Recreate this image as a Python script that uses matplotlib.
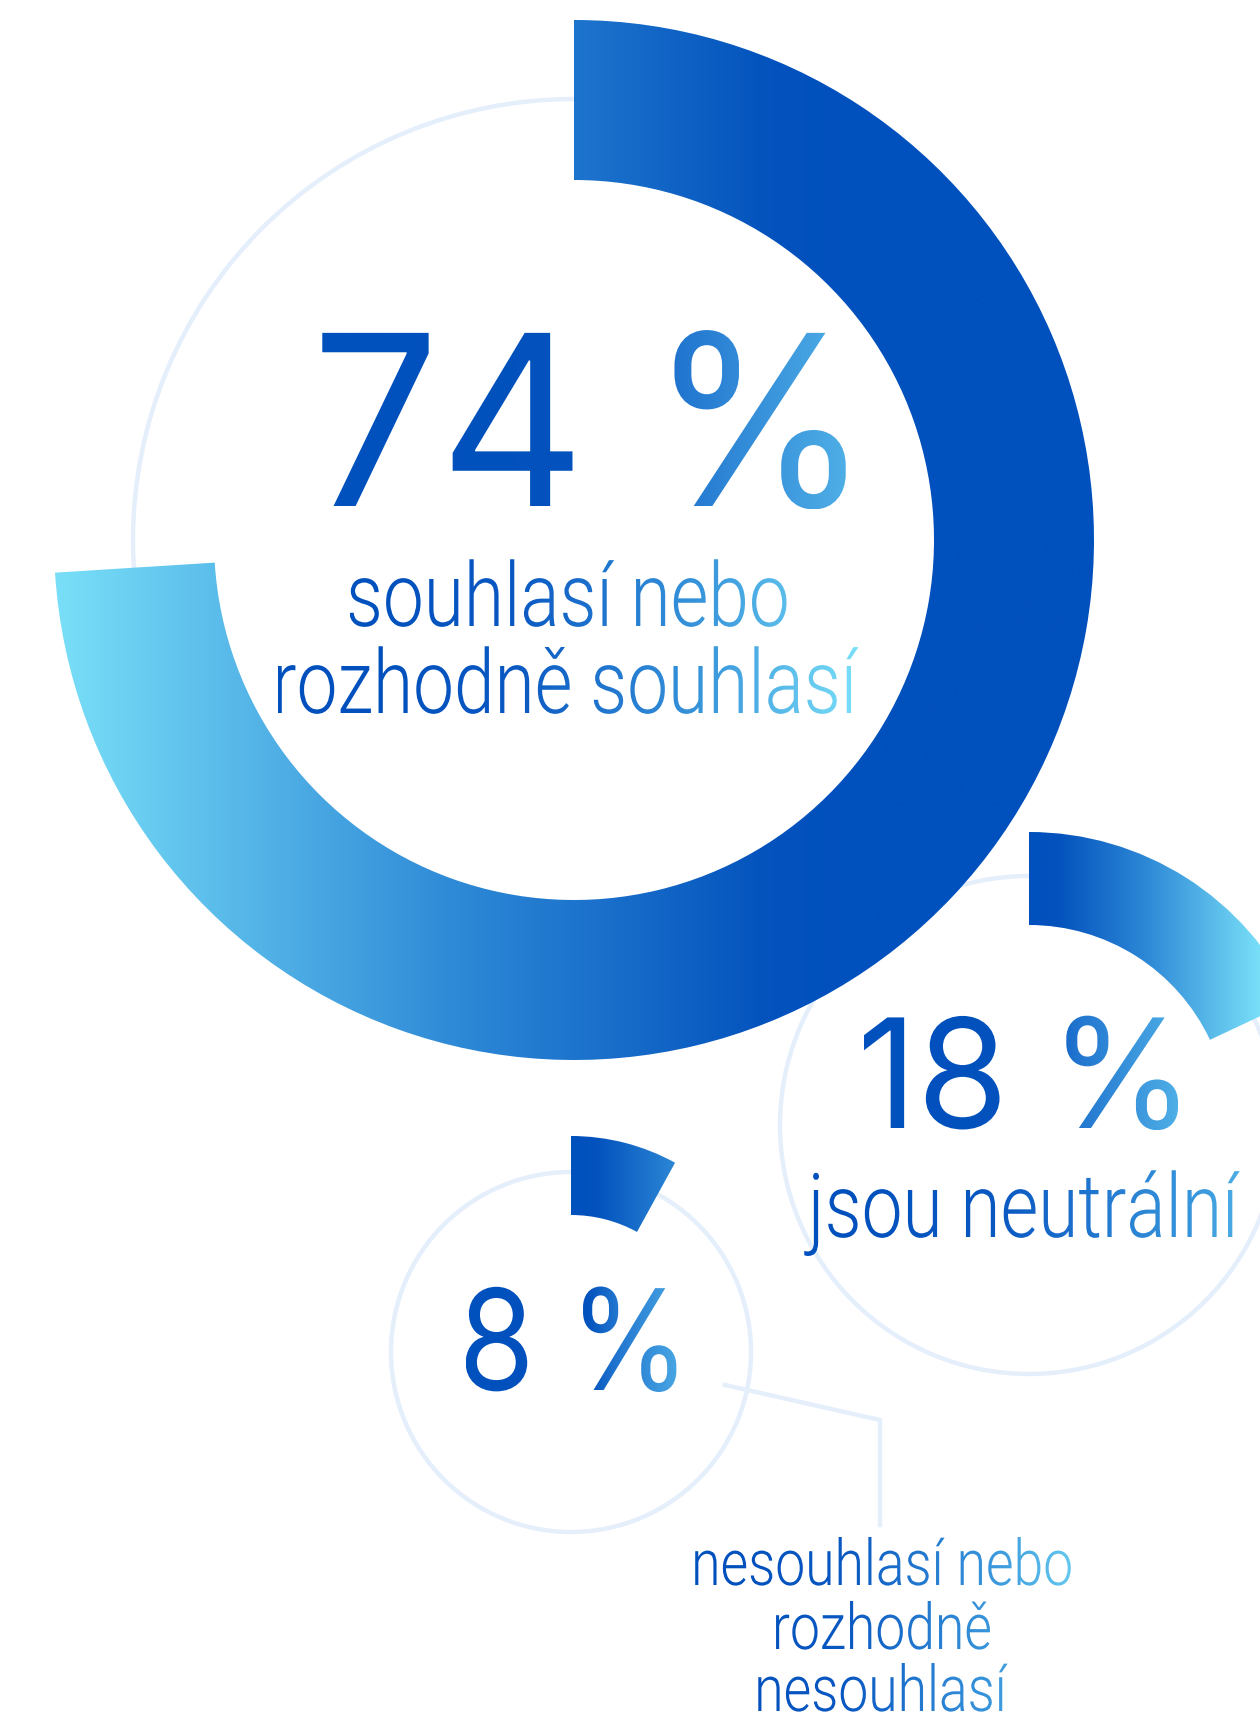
import numpy as np
import matplotlib
matplotlib.use("Agg")
import matplotlib.pyplot as plt
from matplotlib.patches import Wedge, Circle, PathPatch
from matplotlib.textpath import TextPath
from matplotlib.font_manager import FontProperties
from matplotlib.colors import LinearSegmentedColormap
from matplotlib.transforms import Affine2D

# data
shares = [74, 18, 8]
value_labels = ["74 %", "18 %", "8 %"]
labels = ["souhlasí nebo\nrozhodně souhlasí",
          "jsou neutrální",
          "nesouhlasí nebo\nrozhodně\nnesouhlasí"]

W, H = 1260, 1712
fig = plt.figure(figsize=(W / 100, H / 100), dpi=100)
ax = fig.add_axes([0, 0, 1, 1])
ax.axis('off')

TRACK = '#e5effb'
ring_cmap = LinearSegmentedColormap.from_list(
    'ring', [(0, '#0050bd'), (0.12, '#0352bd'), (0.5, '#2d88d6'), (1, '#7ae0f8')])
num_cmap = LinearSegmentedColormap.from_list(
    'num', [(0, '#0050bd'), (0.55, '#0352bd'), (0.68, '#2175cf'), (1, '#4eaee6')])
lab_cmap = LinearSegmentedColormap.from_list(
    'lab', [(0, '#0050bd'), (0.3, '#0a58c2'), (0.7, '#3a98dc'), (1, '#7ae0f8')])

# layout of the three rings (centre, outer/inner radius, track radius, gradient dark->light x)
rings = [
    dict(c=(574, 540), ro=520, ri=360, rt=441, xd=873, xl=50),
    dict(c=(1029, 1125), ro=293, ri=200, rt=249, xd=1030, xl=1262),
    dict(c=(571, 1352), ro=216, ri=137, rt=180, xd=571, xl=782),
]


def fill_gradient(path, x_dark, x_light, cmap, z):
    # horizontal gradient image clipped to the path
    patch = PathPatch(path, facecolor='none', edgecolor='none', zorder=z)
    ax.add_patch(patch)
    b = path.get_extents()
    xs = np.linspace(b.x0, b.x1, 600)
    t = np.clip((xs - x_dark) / (x_light - x_dark), 0, 1)
    im = ax.imshow(t[None, :], cmap=cmap, vmin=0, vmax=1,
                   extent=(b.x0, b.x1, b.y1, b.y0), aspect='auto',
                   interpolation='bilinear', zorder=z)
    im.set_clip_path(patch)


def grad_text(lines, cx, baselines, em, cmap, dark_frac, light_frac,
              xscale=1.0, family='Roboto', weight=300, z=5):
    fp = FontProperties(family=family, weight=weight)
    paths = []
    for s, base in zip(lines, baselines):
        tp = TextPath((0, 0), s, size=em, prop=fp)
        b = tp.get_extents()
        tr = Affine2D().translate(-(b.x0 + b.x1) / 2, 0).scale(xscale, -1).translate(cx, base)
        paths.append(tr.transform_path(tp))
    x0 = min(p.get_extents().x0 for p in paths)
    x1 = max(p.get_extents().x1 for p in paths)
    xd = x0 + dark_frac * (x1 - x0)
    xl = x0 + light_frac * (x1 - x0)
    for p in paths:
        fill_gradient(p, xd, xl, cmap, z)


# tracks
for r in rings:
    ax.add_patch(Circle(r['c'], r['rt'], fill=False, ec=TRACK, lw=3.2, zorder=1))

# leader line for the smallest ring
ax.plot([725, 880, 880], [1385, 1420, 1525], color=TRACK, lw=3.2,
        solid_joinstyle='miter', zorder=1)

# arcs, clockwise from 12 o'clock
for i in [2, 1, 0]:
    r = rings[i]
    sweep = shares[i] / 100 * 360
    w = Wedge(r['c'], r['ro'], -90, -90 + sweep, width=r['ro'] - r['ri'])
    fill_gradient(w.get_path(), r['xd'], r['xl'], ring_cmap, 2 + i * 0.1)

# big numbers
grad_text([value_labels[0]], 584, [506], 238, num_cmap, 0, 1, xscale=0.95,
          family='Inter', weight=400)
grad_text([value_labels[1]], 1021, [1128], 152, num_cmap, 0, 1, xscale=0.97,
          family='Inter', weight=400)
grad_text([value_labels[2]], 571, [1390], 140, num_cmap, 0, 1.05, xscale=0.88,
          family='Inter', weight=400)

# descriptions
grad_text(labels[0].split('\n'), 568, [626, 713], 89, lab_cmap, 0.15, 1.0, xscale=0.82)
grad_text(labels[1].split('\n'), 1022, [1237], 89, lab_cmap, 0.1, 1.25, xscale=0.82)
grad_text(labels[2].split('\n'), 883, [1585, 1649, 1711], 64, lab_cmap, 0.1, 1.1, xscale=0.835)

ax.set_xlim(0, W)
ax.set_ylim(H, 0)
ax.set_aspect('auto')
fig.savefig('out.png', dpi=100, facecolor='white')
